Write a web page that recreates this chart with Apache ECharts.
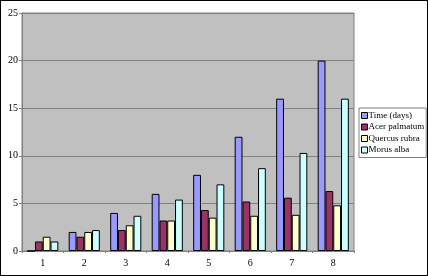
<!DOCTYPE html>
<html><head><meta charset="utf-8">
<script src="https://cdn.jsdelivr.net/npm/echarts@6/dist/echarts.min.js"></script>
<style>
html,body{margin:0;padding:0;background:#fff;}
#c{width:428px;height:276px;box-sizing:border-box;border:1px solid #000;}
</style></head><body>
<div id="c"></div>
<script>
const categories = ['1','2','3','4','5','6','7','8'];
const timeDays = [0, 2, 4, 6, 8, 12, 16, 20];
const acerPalmatum = [1, 1.5, 2.2, 3.2, 4.3, 5.2, 5.6, 6.3];
const quercusRubra = [1.5, 2, 2.7, 3.2, 3.5, 3.7, 3.8, 4.8];
const morusAlba = [1, 2.2, 3.7, 5.4, 7.0, 8.7, 10.3, 16];
const seriesNames = ['Time (days)', 'Acer palmatum', 'Quercus rubra', 'Morus alba'];
const colors = ['#9999FF', '#993366', '#FFFFCC', '#CCFFFF'];

const chart = echarts.init(document.getElementById('c'), null, {renderer: 'canvas'});
const font = '"Liberation Serif", "Times New Roman", serif';
const data = [timeDays, acerPalmatum, quercusRubra, morusAlba];
chart.setOption({
  animation: false,
  textStyle: {fontFamily: font},
  grid: {left: 21, top: 12, right: 73, bottom: 24, show: true, backgroundColor: '#C0C0C0', borderColor: '#808080', borderWidth: 1},
  legend: {
    orient: 'vertical', left: 358, top: 107,
    data: seriesNames,
    icon: 'rect', itemWidth: 6, itemHeight: 6, itemGap: 0.5,
    padding: [2, 2, 2, 2],
    borderColor: '#808080', borderWidth: 1,
    textStyle: {fontFamily: font, fontSize: 9, color: '#000', padding: [0, 0, 0, -4], lineHeight: 11},
    itemStyle: {borderColor: '#000', borderWidth: 1}
  },
  xAxis: {
    type: 'category', data: categories,
    axisLine: {lineStyle: {color: '#808080'}},
    axisTick: {show: true, alignWithLabel: false, length: 2, lineStyle: {color: '#808080'}},
    axisLabel: {fontFamily: font, fontSize: 10, color: '#000', margin: 7},
    splitLine: {show: false}
  },
  yAxis: {
    type: 'value', min: 0, max: 25, interval: 5,
    axisLine: {show: true, lineStyle: {color: '#808080'}},
    axisTick: {show: true, length: 3, lineStyle: {color: '#808080'}},
    axisLabel: {fontFamily: font, fontSize: 10, color: '#000', margin: 4},
    splitLine: {lineStyle: {color: '#808080', width: 1}}
  },
  series: seriesNames.map((n, i) => ({
    name: n, type: 'bar', data: data[i],
    barGap: '0%', barCategoryGap: '25%',
    itemStyle: {color: colors[i], borderColor: '#000', borderWidth: 1}
  }))
});
</script>
</body></html>
